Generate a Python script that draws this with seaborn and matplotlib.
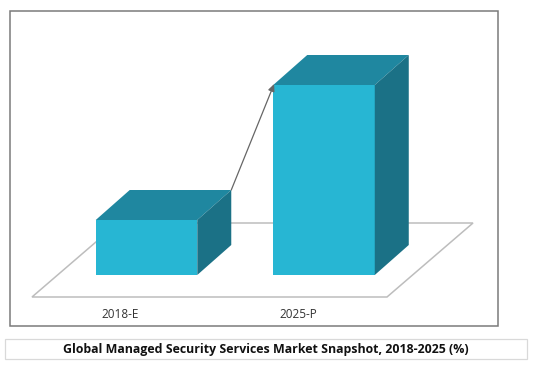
"""Global Managed Security Services Market Snapshot: pseudo-3D bars"""

import matplotlib
matplotlib.use('Agg')
import matplotlib.pyplot as plt
import numpy as np
import pandas as pd
import seaborn as sns
from matplotlib.patches import Polygon, Rectangle

# ==================== Data ====================
categories = ['2018-E', '2025-P']
values = [55, 190]
title = 'Global Managed Security Services Market Snapshot, 2018-2025 (%)'

# ==================== Layout and colours ====================
W, H = 556, 376
BASE_Y = 275           # pixel row of the bar baseline
DEPTH_X, DEPTH_Y = 34, 30
FRONT, TOP, SIDE = '#27B6D3', '#1F87A0', '#1B7186'
FRAME_GRAY = '#7A7A7A'
FLOOR_GRAY = '#BDBDBD'
BOX_GRAY = '#D9D9D9'
FONT = ['Open Sans', 'DejaVu Sans']


def px(x, y):
    """Pixel position in the picture -> figure fraction"""
    return x / W, 1 - y / H


def draw_page(fig):
    """Outer frame, floor and caption box, all behind the axes"""
    x0, y1 = px(9.5, 326)
    x1, y0 = px(498, 10.5)
    fig.add_artist(Rectangle((x0, y1), x1 - x0, y0 - y1, transform=fig.transFigure,
                             fc='white', ec=FRAME_GRAY, lw=1.1, zorder=-3))
    floor = [px(32, 297), px(387, 297), px(473, 223), px(118, 223)]
    fig.add_artist(Polygon(floor, closed=True, transform=fig.transFigure,
                           fc='none', ec=FLOOR_GRAY, lw=1.1, zorder=-2))
    x0, y1 = px(4.5, 359)
    x1, y0 = px(527, 339)
    fig.add_artist(Rectangle((x0, y1), x1 - x0, y0 - y1, transform=fig.transFigure,
                             fc='white', ec=BOX_GRAY, lw=0.9, zorder=-2))
    cx, cy = px(265.5, 349.5)
    fig.text(cx, cy, title, ha='center', va='center', fontsize=8.95,
             fontweight='bold', family=FONT, color='#111111')


def draw_bars(ax):
    """Front faces come from seaborn, top and side faces from the bar geometry"""
    df = pd.DataFrame({'period': categories, 'value': values})
    sns.barplot(data=df, x='period', y='value', color=FRONT, saturation=1,
                width=0.572, linewidth=0, ax=ax, zorder=3)

    # one category step = 177.5 px, one value unit = 1 px
    ax.set_xlim(-146.5 / 177.5, (W - 146.5) / 177.5)
    ax.set_ylim(0, BASE_Y)

    dx = DEPTH_X / 177.5
    corners = []
    for bar in list(ax.patches):
        x0, x1, h = bar.get_x(), bar.get_x() + bar.get_width(), bar.get_height()
        ax.add_patch(Polygon([(x0, h), (x1, h), (x1 + dx, h + DEPTH_Y), (x0 + dx, h + DEPTH_Y)],
                             fc=TOP, ec='none', zorder=3))
        ax.add_patch(Polygon([(x1, 0), (x1 + dx, DEPTH_Y), (x1 + dx, h + DEPTH_Y), (x1, h)],
                             fc=SIDE, ec='none', zorder=3))
        corners.append((x0, x1, h))

    # arrow from back corner of the first bar to the top of the second
    ax.annotate('', xy=(corners[1][0] + 0.005, corners[1][2] + 1),
                xytext=(corners[0][1] + dx, corners[0][2] + DEPTH_Y),
                arrowprops=dict(arrowstyle='-|>,head_length=0.35,head_width=0.16',
                                color='#666666', lw=0.9, shrinkA=0, shrinkB=0),
                zorder=4)

    # labels sit on the floor, shifted left of the bars
    ax.set_xticks(np.arange(len(categories)) - 26 / 177.5, categories)
    ax.tick_params(axis='x', length=0, pad=24, labelsize=8.5, labelcolor='#333333')
    for lab in ax.get_xticklabels():
        lab.set_family(FONT)
    ax.set_yticks([])
    ax.set_xlabel('')
    ax.set_ylabel('')
    sns.despine(ax=ax, left=True, bottom=True)
    ax.patch.set_alpha(0)


def main():
    sns.set_theme(style='white')
    plt.rcParams['font.family'] = FONT

    fig = plt.figure(figsize=(W / 100, H / 100), dpi=100, facecolor='white')
    draw_page(fig)
    ax = fig.add_axes([0, 1 - BASE_Y / H, 1, BASE_Y / H])
    draw_bars(ax)
    fig.savefig('out.png', dpi=100)
    plt.close(fig)


if __name__ == '__main__':
    main()
